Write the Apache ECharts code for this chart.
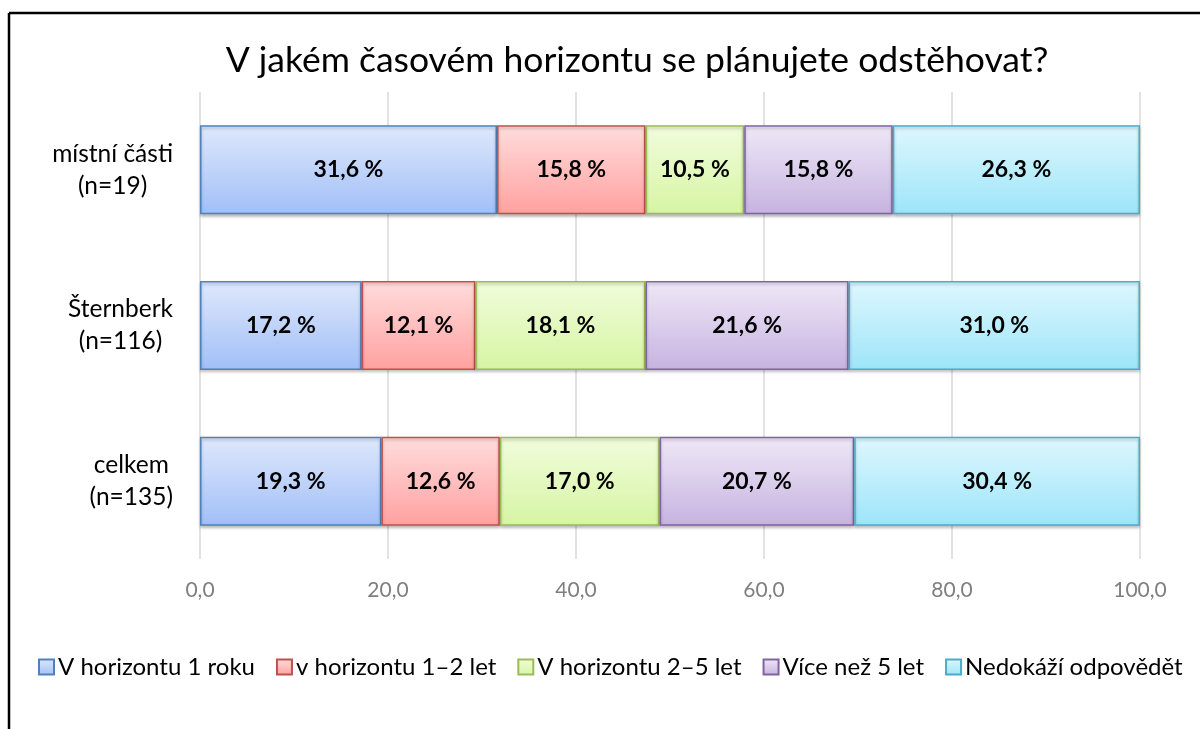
<!DOCTYPE html>
<html>
<head>
<meta charset="utf-8">
<script src="https://cdn.jsdelivr.net/npm/echarts@6/dist/echarts.min.js"></script>
<style>
  html, body { margin: 0; padding: 0; background: #fff; }
  #chart { width: 1200px; height: 729px; }
</style>
</head>
<body>
<div id="chart"></div>
<script>
// Groups of respondents (top to bottom)
const categories = ['místní části\n(n=19)', 'Šternberk\n(n=116)', 'celkem\n(n=135)'];

// Share of answers per group, in %
const seriesNames = ['V horizontu 1 roku', 'v horizontu 1–2 let', 'V horizontu 2–5 let', 'Více než 5 let', 'Nedokáží odpovědět'];
const within1Year = [31.6, 17.2, 19.3];
const within1to2Years = [15.8, 12.1, 12.6];
const within2to5Years = [10.5, 18.1, 17.0];
const moreThan5Years = [15.8, 21.6, 20.7];
const cannotAnswer = [26.3, 31.0, 30.4];

const axisTicks = [0, 20, 40, 60, 80, 100];

// Fill gradient (top, bottom) and outline colour for each series
const palettes = [
  { top: '#dfe8fc', bottom: '#a1bff7', border: '#4f81bd' },
  { top: '#ffdcdc', bottom: '#ffa1a0', border: '#c0504d' },
  { top: '#f1fcdc', bottom: '#d6f5a3', border: '#9bbb59' },
  { top: '#efe8f7', bottom: '#c6b3e0', border: '#8064a2' },
  { top: '#def7fe', bottom: '#9de5f9', border: '#4bacc6' }
];

const seriesData = [within1Year, within1to2Years, within2to5Years, moreThan5Years, cannotAnswer];

const fmt = v => v.toFixed(1).replace('.', ',');

const chart = echarts.init(document.getElementById('chart'));

chart.setOption({
  backgroundColor: '#fff',
  animation: false,
  textStyle: { fontFamily: 'Lato' },
  title: {
    text: 'V jakém časovém horizontu se plánujete odstěhovat?',
    left: 632,
    textAlign: 'center',
    top: 38,
    textStyle: { fontFamily: 'Lato', fontSize: 35.5, fontWeight: 'normal', color: '#000' }
  },
  graphic: [
    // chart frame (left and top edges)
    { type: 'line', shape: { x1: 9, y1: 13, x2: 1200, y2: 13 }, style: { stroke: '#000', lineWidth: 2.5 } },
    { type: 'line', shape: { x1: 9, y1: 13, x2: 9, y2: 729 }, style: { stroke: '#000', lineWidth: 2.5 } }
  ],
  legend: {
    left: 33,
    top: 650,
    itemWidth: 15,
    itemHeight: 15,
    itemGap: 21,
    icon: 'rect',
    textStyle: { fontFamily: 'Lato', fontSize: 24, color: '#000', padding: [0, 0, 0, -1] },
    data: seriesNames
  },
  grid: { left: 200, right: 60, top: 92, height: 467, containLabel: false },
  xAxis: {
    type: 'value',
    min: axisTicks[0],
    max: axisTicks[axisTicks.length - 1],
    interval: axisTicks[1] - axisTicks[0],
    axisLine: { show: false },
    axisTick: { show: false },
    splitLine: { show: true, lineStyle: { color: '#d9d9d9', width: 1.5 } },
    axisLabel: {
      margin: 21,
      fontFamily: 'Lato',
      fontSize: 21,
      color: '#7f7f7f',
      formatter: v => fmt(v)
    }
  },
  yAxis: {
    type: 'category',
    inverse: true,
    data: categories,
    axisLine: { show: false },
    axisTick: { show: false },
    axisLabel: {
      margin: 27,
      fontFamily: 'Lato',
      fontSize: 24.5,
      lineHeight: 32,
      color: '#000',
      formatter: v => v.split('\n').map(s => '{c|' + s + '}').join('\n'),
      rich: { c: { align: 'center', fontFamily: 'Lato', fontSize: 24.5, lineHeight: 32, color: '#000' } }
    }
  },
  series: seriesNames.map((name, i) => ({
    name: name,
    type: 'bar',
    stack: 'total',
    barWidth: 89,
    data: seriesData[i],
    itemStyle: {
      color: new echarts.graphic.LinearGradient(0, 0, 0, 1, [
        { offset: 0, color: palettes[i].top },
        { offset: 1, color: palettes[i].bottom }
      ]),
      borderColor: palettes[i].border,
      borderWidth: 1.5,
      shadowColor: 'rgba(0,0,0,0.25)',
      shadowBlur: 3,
      shadowOffsetY: 2
    },
    label: {
      show: true,
      position: 'inside',
      fontFamily: 'Lato',
      fontWeight: 'bold',
      fontSize: 23,
      color: '#000',
      formatter: p => fmt(p.value) + ' %'
    }
  }))
});
</script>
</body>
</html>
